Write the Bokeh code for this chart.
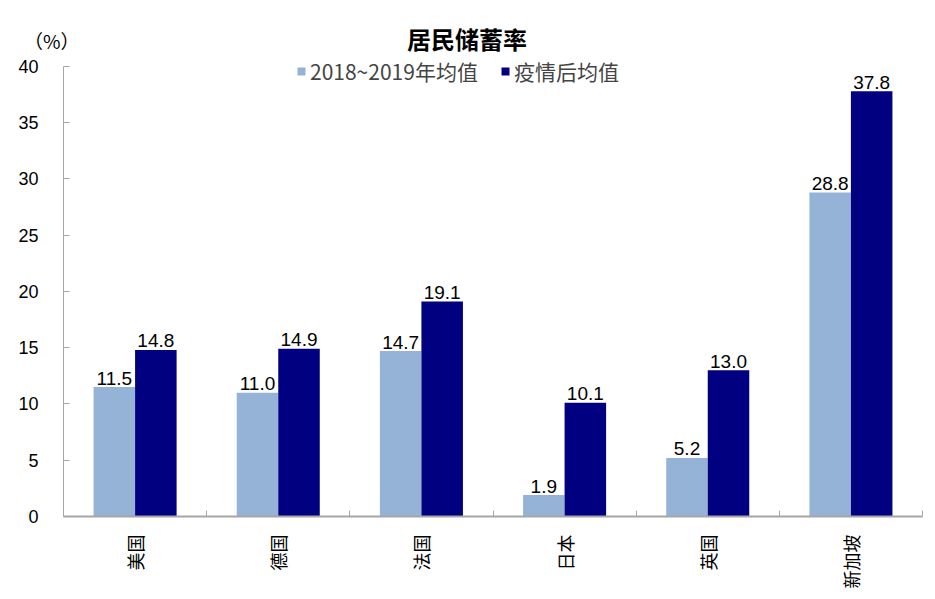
from bokeh.plotting import figure
from bokeh.models import FixedTicker, Legend, LegendItem, ColumnDataSource, Range1d
from bokeh.layouts import column
from bokeh.core.properties import value
from bokeh.embed import file_html
from bokeh.resources import INLINE
import math

categories = ["美国", "德国", "法国", "日本", "英国", "新加坡"]
pre_avg = [11.5, 11.0, 14.7, 1.9, 5.2, 28.8]
post_avg = [14.8, 14.9, 19.1, 10.1, 13.0, 37.8]
series_names = ["2018~2019年均值", "疫情后均值"]
y_ticks = [0, 5, 10, 15, 20, 25, 30, 35, 40]
chart_title = "居民储蓄率"
unit_label = "（%）"

C_LIGHT = "#95B3D7"
C_DARK = "#000080"
AX = "#A6A6A6"
FONT = "Liberation Sans"
CJK = "Noto Sans CJK SC"

W = 927
HEAD_H = 57
LEFT, RIGHT = 63, 5

# ---- header strip: title and unit (frame aligned with main chart frame) ----
head = figure(width=W, height=HEAD_H, output_backend="svg", toolbar_location=None,
              x_range=Range1d(LEFT, W - RIGHT), y_range=Range1d(0, HEAD_H),
              x_axis_type=None, min_border_left=LEFT, min_border_right=RIGHT,
              min_border_top=0, min_border_bottom=0, outline_line_color=None)
head.grid.visible = False
head.text(x=[466.5], y=[19.5], text=[chart_title], text_align="center", text_baseline="middle",
          text_font=value(CJK), text_font_size="24px", text_font_style="bold", text_color="black")
hy = head.yaxis[0]
hy.ticker = FixedTicker(ticks=[17])
hy.major_label_overrides = {17: unit_label}
hy.axis_line_color = None
hy.major_tick_line_color = None
hy.minor_tick_line_color = None
hy.major_tick_in = 0
hy.major_tick_out = 0
hy.major_label_text_font = CJK
hy.major_label_text_font_size = "19px"
hy.major_label_text_color = "black"
hy.major_label_standoff = -16

# ---- main chart ----
n = len(categories)
bw = 0.29
x_pre = [i + 0.5 - bw / 2 for i in range(n)]
x_post = [i + 0.5 + bw / 2 for i in range(n)]

p = figure(width=W, height=591 - HEAD_H, output_backend="svg", toolbar_location=None,
           x_range=Range1d(0, n), y_range=Range1d(0, 40.798),
           min_border_left=LEFT, min_border_right=RIGHT, min_border_top=0, min_border_bottom=74,
           outline_line_color=None)
p.grid.visible = False

src_pre = ColumnDataSource(dict(x=x_pre, top=pre_avg, lab=["%.1f" % v for v in pre_avg]))
src_post = ColumnDataSource(dict(x=x_post, top=post_avg, lab=["%.1f" % v for v in post_avg]))

r1 = p.vbar(x="x", top="top", width=bw, bottom=0, source=src_pre, fill_color=C_LIGHT, line_color=None)
r2 = p.vbar(x="x", top="top", width=bw, bottom=0, source=src_post, fill_color=C_DARK, line_color=None)

for src in (src_pre, src_post):
    p.text(x="x", y="top", text="lab", source=src, text_align="center", text_baseline="alphabetic",
           y_offset=-9, text_font=value(FONT), text_font_size="19px", text_color="black")

ya = p.yaxis[0]
ya.ticker = FixedTicker(ticks=y_ticks)
ya.bounds = (0, 40)
ya.axis_line_color = AX
ya.major_tick_line_color = AX
ya.major_tick_in = 6
ya.major_tick_out = 0
ya.minor_tick_line_color = None
ya.major_label_text_font = FONT
ya.major_label_text_font_size = "18px"
ya.major_label_text_color = "black"
ya.major_label_standoff = 25

xa = p.xaxis[0]
xa.ticker = FixedTicker(ticks=[i + 0.5 for i in range(n)], minor_ticks=list(range(n + 1)))
xa.major_label_overrides = {i + 0.5: c for i, c in enumerate(categories)}
xa.axis_line_color = AX
xa.axis_line_width = 2
xa.major_tick_line_color = None
xa.minor_tick_line_color = AX
xa.minor_tick_in = 6
xa.minor_tick_out = 0
xa.major_label_orientation = math.pi / 2
xa.major_label_text_font = CJK
xa.major_label_text_font_size = "18px"
xa.major_label_text_color = "black"
xa.major_label_standoff = 12

legend = Legend(items=[LegendItem(label=series_names[0], renderers=[r1]),
                       LegendItem(label=series_names[1], renderers=[r2])],
                location=(233, 430), orientation="horizontal",
                glyph_width=10, glyph_height=10, label_text_font=CJK, label_text_font_size="21px",
                label_standoff=4, spacing=22, padding=0, margin=0,
                border_line_color=None, background_fill_alpha=0)
p.add_layout(legend, "center")

layout = column(head, p, spacing=0)
open("out.html", "w").write(file_html(layout, INLINE))
